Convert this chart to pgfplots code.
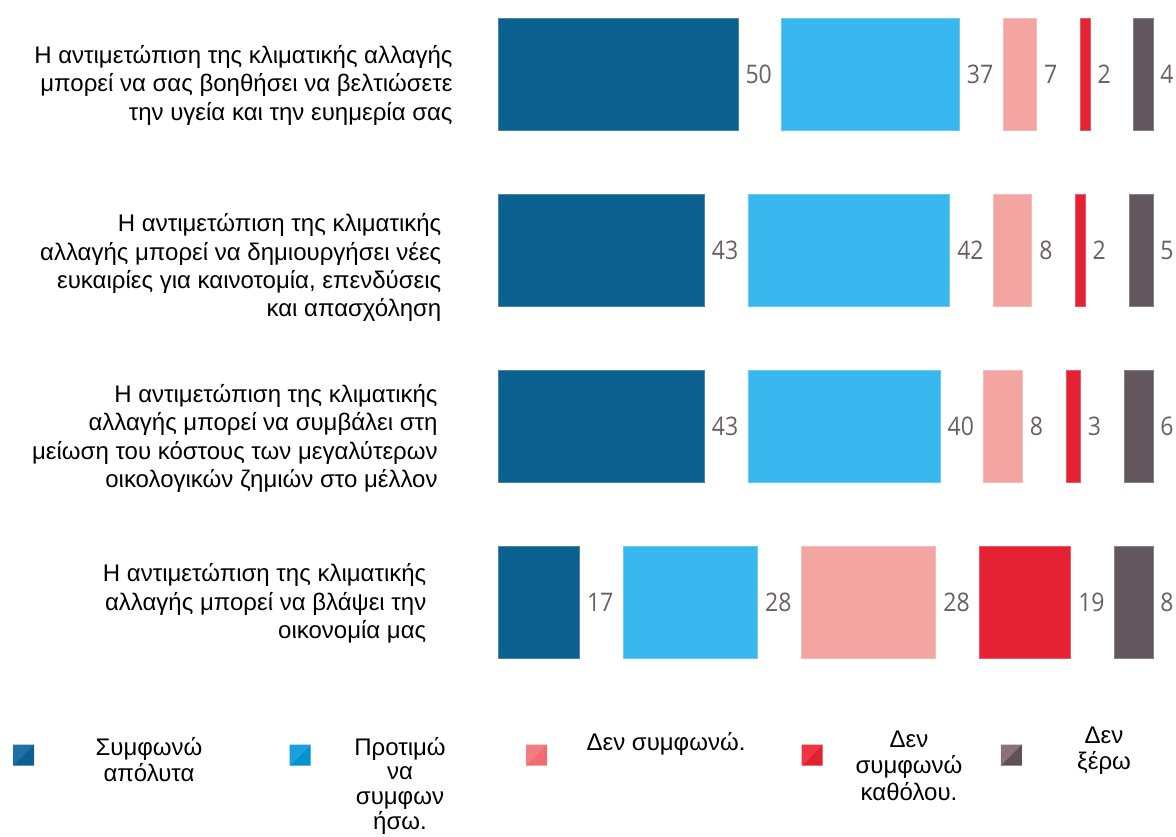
\documentclass[border=0pt]{standalone}
\usepackage{fontspec}
\setmainfont{Liberation Sans}
\newfontfamily\numfont[FakeStretch=0.9]{Open Sans}
\usepackage{pgfplots}
\pgfplotsset{compat=1.18}
\definecolor{cA}{HTML}{0C6090}
\definecolor{cB}{HTML}{38B7EE}
\definecolor{cC}{HTML}{F4A4A1}
\definecolor{cD}{HTML}{E42234}
\definecolor{cE}{HTML}{62575C}
\definecolor{numc}{HTML}{6B5F62}
\definecolor{lA}{HTML}{2070A8}\definecolor{dA}{HTML}{0E5E92}
\definecolor{lB}{HTML}{1AA0DD}\definecolor{dB}{HTML}{0592D0}
\definecolor{lC}{HTML}{F47C82}\definecolor{dC}{HTML}{F26A72}
\definecolor{lD}{HTML}{EE3442}\definecolor{dD}{HTML}{E2202F}
\definecolor{lE}{HTML}{887478}\definecolor{dE}{HTML}{5F5157}
\newcommand\rlab[3]{\raisebox{#2}{\begin{tabular}[t]{@{}r@{\hspace{#1}}}#3\end{tabular}}}
\newcommand\ctab[1]{\begin{tabular}[t]{@{}c@{}}#1\end{tabular}}
\newcommand\legsq[4]{%
  \fill[#3] (#1-5.25pt,#2+5.25pt) -- (#1+5.25pt,#2+5.25pt) -- (#1-5.25pt,#2-5.25pt) -- cycle;
  \fill[#4] (#1+5.25pt,#2+5.25pt) -- (#1+5.25pt,#2-5.25pt) -- (#1-5.25pt,#2-5.25pt) -- cycle;}
\pgfplotsset{gap/.style={draw=none, fill=none, forget plot, nodes near coords, point meta=explicit symbolic}}
\begin{document}
\begin{tikzpicture}
\useasboundingbox (0pt,0pt) rectangle (588pt,-418pt);
\begin{axis}[
  at={(249pt,0pt)}, anchor=north west,
  scale only axis, width=327.5pt, height=352pt,
  xbar stacked, bar width=56pt,
  xmin=0, xmax=136.4, ymin=-0.42045, ymax=3.57955, y dir=reverse,
  axis line style={draw=none}, tick style={draw=none},
  xtick=\empty, ytick={0,1,2,3},
  yticklabels={
    {\rlab{0pt}{5.35pt}{Η αντιμετώπιση της κλιματικής αλλαγής\\μπορεί να σας βοηθήσει να βελτιώσετε\\την υγεία και την ευημερία σας}},
    {\rlab{5.65pt}{9.15pt}{Η αντιμετώπιση της κλιματικής\\αλλαγής μπορεί να δημιουργήσει νέες\\ευκαιρίες για καινοτομία, επενδύσεις\\και απασχόληση}},
    {\rlab{7.5pt}{11.75pt}{Η αντιμετώπιση της κλιματικής\\αλλαγής μπορεί να συμβάλει στη\\μείωση του κόστους των μεγαλύτερων\\οικολογικών ζημιών στο μέλλον}},
    {\rlab{13.15pt}{10.15pt}{Η αντιμετώπιση της κλιματικής\\αλλαγής μπορεί να βλάψει την\\οικονομία μας}}},
  yticklabel style={font=\fontsize{12}{14.2}\selectfont, anchor=base east, inner sep=0pt, xshift=-22.5pt},
  clip=false,
  every node near coord/.append style={font=\numfont\fontsize{12.8}{13}\selectfont, text=numc, anchor=west, inner sep=0pt, xshift=-7.42pt},
]
\addplot[fill=cA, draw=cA!75!white, line width=0.5pt]
  coordinates {(50,0) (43,1) (43,2) (17,3)};
\addplot[gap] coordinates {(9.1,0)[50] (9.1,1)[43] (9.1,2)[43] (9.1,3)[17]};
\addplot[fill=cB, draw=cB!75!white, line width=0.5pt]
  coordinates {(37,0) (42,1) (40,2) (28,3)};
\addplot[gap] coordinates {(9.1,0)[37] (9.1,1)[42] (9.1,2)[40] (9.1,3)[28]};
\addplot[fill=cC, draw=cC!75!white, line width=0.5pt]
  coordinates {(7,0) (8,1) (8,2) (28,3)};
\addplot[gap] coordinates {(9.1,0)[7] (9.1,1)[8] (9.1,2)[8] (9.1,3)[28]};
\addplot[fill=cD, draw=cD!75!white, line width=0.5pt]
  coordinates {(2,0) (2,1) (3,2) (19,3)};
\addplot[gap] coordinates {(9.1,0)[2] (9.1,1)[2] (9.1,2)[3] (9.1,3)[19]};
\addplot[fill=cE, draw=cE!75!white, line width=0.5pt]
  coordinates {(4,0) (5,1) (6,2) (8,3)};
\addplot[gap] coordinates {(9.1,0)[4] (9.1,1)[5] (9.1,2)[6] (9.1,3)[8]};
\end{axis}
\legsq{11.85pt}{-377.5pt}{lA}{dA}
\legsq{150pt}{-377.5pt}{lB}{dB}
\legsq{268.25pt}{-377.5pt}{lC}{dC}
\legsq{406pt}{-377.5pt}{lD}{dD}
\legsq{505.65pt}{-377.5pt}{lE}{dE}
\begin{scope}[every node/.style={font=\fontsize{12}{13.3}\selectfont, inner sep=0pt, anchor=base}]
\node at (74.5pt,-377.5pt) {\ctab{Συμφωνώ\\απόλυτα}};
\node[font=\fontsize{12}{12.3}\selectfont] at (200pt,-377.5pt) {\ctab{Προτιμώ\\να\\συμφων\\ήσω.}};
\node at (333pt,-375pt) {Δεν συμφωνώ.};
\node at (454.5pt,-373.5pt) {\ctab{Δεν\\συμφωνώ\\καθόλου.}};
\node at (552pt,-371.5pt) {\ctab{Δεν\\ξέρω}};
\end{scope}
\end{tikzpicture}
\end{document}
